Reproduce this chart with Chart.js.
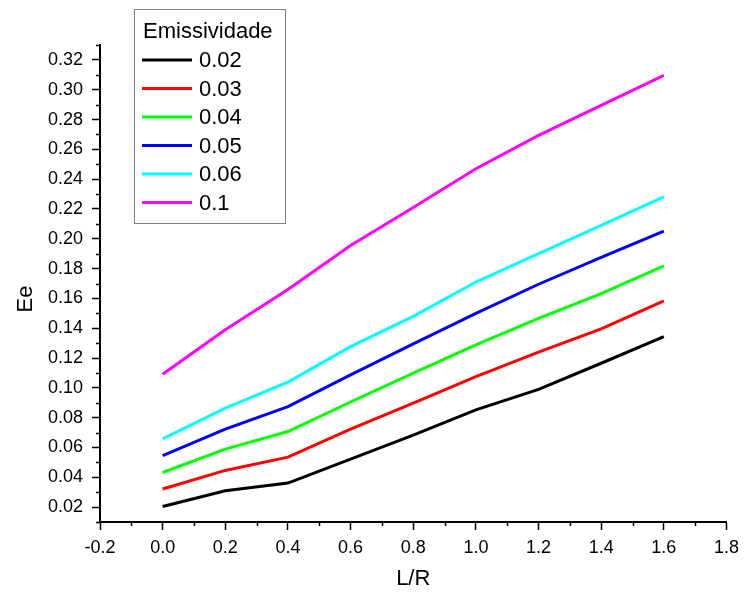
<!DOCTYPE html>
<html>
<head>
<meta charset="utf-8">
<script src="https://cdn.jsdelivr.net/npm/chart.js@4/dist/chart.umd.min.js"></script>
<style>
  html, body { margin: 0; padding: 0; background: #fff; }
  #wrap { width: 746px; height: 600px; }
</style>
</head>
<body>
<div id="wrap"><canvas id="line-chart" width="746" height="600"></canvas></div>
<script>
const lr = [0, 0.2, 0.4, 0.6, 0.8, 1.0, 1.2, 1.4, 1.6];
const e002 = [0.0204, 0.0310, 0.0361, 0.0522, 0.0683, 0.0852, 0.0990, 0.1165, 0.1343];
const e003 = [0.0321, 0.0446, 0.0535, 0.0723, 0.0898, 0.1075, 0.1240, 0.1395, 0.1584];
const e004 = [0.0432, 0.0589, 0.0707, 0.0905, 0.1098, 0.1288, 0.1466, 0.1632, 0.1819];
const e005 = [0.0546, 0.0723, 0.0874, 0.1087, 0.1295, 0.1500, 0.1695, 0.1875, 0.2051];
const e006 = [0.0658, 0.0864, 0.1038, 0.1276, 0.1480, 0.1710, 0.1900, 0.2090, 0.2281];
const e010 = [0.1091, 0.1390, 0.1660, 0.1955, 0.2210, 0.2470, 0.2694, 0.2895, 0.3096];
const seriesLabels = ['0.02', '0.03', '0.04', '0.05', '0.06', '0.1'];
const seriesColors = ['#000000', '#ff0000', '#00ff00', '#0000ff', '#00ffff', '#ff00ff'];
const xTicks = [-0.2, 0, 0.2, 0.4, 0.6, 0.8, 1.0, 1.2, 1.4, 1.6, 1.8];
const yTicks = [0.02, 0.04, 0.06, 0.08, 0.10, 0.12, 0.14, 0.16, 0.18, 0.20, 0.22, 0.24, 0.26, 0.28, 0.30, 0.32];

const FONT = 'Liberation Sans, Arial, sans-serif';
const allSeries = [e002, e003, e004, e005, e006, e010];

// minor ticks halfway between the major ones
const minorTicks = {
  id: 'minorTicks',
  afterDraw(chart) {
    const ctx = chart.ctx;
    ctx.save();
    ctx.strokeStyle = '#000';
    ctx.lineWidth = 1.5;
    const x = chart.scales.x, y = chart.scales.y;
    for (let i = 0; i < xTicks.length - 1; i++) {
      const px = Math.round(x.getPixelForValue((xTicks[i] + xTicks[i + 1]) / 2)) + 0.5;
      ctx.beginPath();
      ctx.moveTo(px, x.top);
      ctx.lineTo(px, x.top + 4);
      ctx.stroke();
    }
    const ymid = [0.01].concat(yTicks.map(v => v + 0.01));
    ymid.forEach(v => {
      const py = Math.round(y.getPixelForValue(v)) + 0.5;
      ctx.beginPath();
      ctx.moveTo(y.right, py);
      ctx.lineTo(y.right - 4, py);
      ctx.stroke();
    });
    // y axis title, sits a bit below the middle in the original
    ctx.fillStyle = '#000';
    ctx.font = '22px ' + FONT;
    ctx.textAlign = 'center';
    ctx.textBaseline = 'middle';
    ctx.translate(26, 299);
    ctx.rotate(-Math.PI / 2);
    ctx.fillText('Ee', 0, 0);
    ctx.restore();
  }
};

// boxed legend in the upper left of the plot
const boxLegend = {
  id: 'boxLegend',
  afterDraw(chart) {
    const ctx = chart.ctx;
    ctx.save();
    ctx.fillStyle = '#fff';
    ctx.fillRect(134, 9, 151, 214);
    ctx.strokeStyle = '#808080';
    ctx.lineWidth = 1;
    ctx.strokeRect(134.5, 9.5, 151, 214);
    ctx.fillStyle = '#000';
    ctx.font = '22px ' + FONT;
    ctx.textBaseline = 'middle';
    ctx.textAlign = 'left';
    ctx.fillText('Emissividade', 143, 32);
    chart.data.datasets.forEach((ds, i) => {
      const cy = 60 + i * 28.5;
      ctx.strokeStyle = ds.borderColor;
      ctx.lineWidth = 3;
      ctx.beginPath();
      ctx.moveTo(142, cy);
      ctx.lineTo(192, cy);
      ctx.stroke();
      ctx.fillText(ds.label, 199, cy + 1);
    });
    ctx.restore();
  }
};

new Chart(
  document.getElementById('line-chart'),
  {
    type: 'line',
    data: {
      datasets: allSeries.map((vals, i) => ({
        label: seriesLabels[i],
        data: lr.map((v, j) => ({ x: v, y: vals[j] })),
        borderColor: seriesColors[i],
        backgroundColor: seriesColors[i],
        borderWidth: 3,
        pointRadius: 0,
        tension: 0,
        fill: false,
      })),
    },
    options: {
      responsive: false,
      animation: false,
      layout: { padding: { top: 45, right: 17, left: 0, bottom: 0 } },
      plugins: {
        legend: { display: false },
        tooltip: { enabled: false },
      },
      scales: {
        x: {
          type: 'linear',
          min: -0.2,
          max: 1.8,
          afterBuildTicks: (s) => { s.ticks = xTicks.map(v => ({ value: v })); },
          afterFit: (s) => { s.height = 78; },
          grid: { display: true, drawOnChartArea: false, tickLength: 8, tickColor: '#000', tickWidth: 1.5 },
          border: { display: true, color: '#000', width: 2 },
          ticks: {
            color: '#000',
            padding: 7,
            maxRotation: 0,
            font: { family: FONT, size: 18 },
            callback: (v) => Number(v).toFixed(1),
          },
          title: {
            display: true,
            text: 'L/R',
            color: '#000',
            font: { family: FONT, size: 22 },
            padding: { top: 0, bottom: 8 },
          },
        },
        y: {
          type: 'linear',
          min: 0.01,
          max: 0.33,
          afterBuildTicks: (s) => { s.ticks = yTicks.map(v => ({ value: v })); },
          afterFit: (s) => { s.width = 100; },
          grid: { display: true, drawOnChartArea: false, tickLength: 8, tickColor: '#000', tickWidth: 1.5 },
          border: { display: true, color: '#000', width: 2 },
          ticks: {
            color: '#000',
            padding: 9,
            font: { family: FONT, size: 18 },
            callback: (v) => Number(v).toFixed(2),
          },
          title: { display: false },
        },
      },
    },
    plugins: [minorTicks, boxLegend],
  }
);
</script>
</body>
</html>
